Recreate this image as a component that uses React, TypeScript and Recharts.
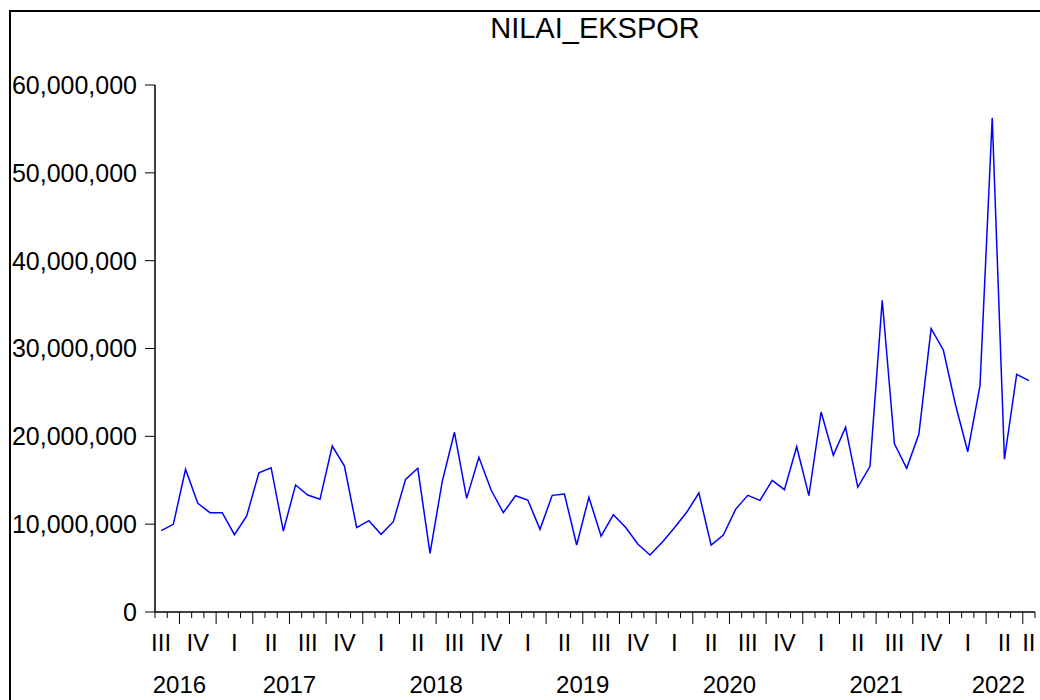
import React from 'react';
import { LineChart, Line, XAxis, YAxis } from 'recharts';

// monthly periods, Jul 2016 .. Jun 2022
const periods = [
  '2016M07', '2016M08', '2016M09', '2016M10', '2016M11', '2016M12',
  '2017M01', '2017M02', '2017M03', '2017M04', '2017M05', '2017M06',
  '2017M07', '2017M08', '2017M09', '2017M10', '2017M11', '2017M12',
  '2018M01', '2018M02', '2018M03', '2018M04', '2018M05', '2018M06',
  '2018M07', '2018M08', '2018M09', '2018M10', '2018M11', '2018M12',
  '2019M01', '2019M02', '2019M03', '2019M04', '2019M05', '2019M06',
  '2019M07', '2019M08', '2019M09', '2019M10', '2019M11', '2019M12',
  '2020M01', '2020M02', '2020M03', '2020M04', '2020M05', '2020M06',
  '2020M07', '2020M08', '2020M09', '2020M10', '2020M11', '2020M12',
  '2021M01', '2021M02', '2021M03', '2021M04', '2021M05', '2021M06',
  '2021M07', '2021M08', '2021M09', '2021M10', '2021M11', '2021M12',
  '2022M01', '2022M02', '2022M03', '2022M04', '2022M05', '2022M06',
];

const nilaiEkspor = [
  9260000, 9980000, 16250000, 12370000, 11310000, 11310000,
  8800000, 10930000, 15860000, 16430000, 9220000, 14460000,
  13320000, 12830000, 18900000, 16620000, 9600000, 10400000,
  8840000, 10280000, 15100000, 16360000, 6680000, 14840000,
  20460000, 12940000, 17610000, 13890000, 11310000, 13240000,
  12750000, 9410000, 13280000, 13430000, 7630000, 13060000,
  8650000, 11080000, 9640000, 7740000, 6490000, 7930000,
  9600000, 11350000, 13550000, 7610000, 8770000, 11690000,
  13280000, 12710000, 14990000, 13930000, 18820000, 13250000,
  22770000, 17840000, 21030000, 14200000, 16590000, 35490000,
  19160000, 16360000, 20270000, 32260000, 29830000, 23570000,
  18250000, 25770000, 56280000, 17390000, 27060000, 26340000,
];

const yTicks = [0, 10000000, 20000000, 30000000, 40000000, 50000000, 60000000];

// quarter labels sit on the first month of each quarter (1-based month number)
const quarterMonths = [1, 4, 7, 10, 13, 16, 19, 22, 25, 28, 31, 34, 37, 40, 43, 46, 49, 52, 55, 58, 61, 64, 67, 70, 72];
const quarterLabels = ['III', 'IV', 'I', 'II', 'III', 'IV', 'I', 'II', 'III', 'IV', 'I', 'II', 'III', 'IV', 'I', 'II', 'III', 'IV', 'I', 'II', 'III', 'IV', 'I', 'II', 'II'];

// year labels centred over their quarter labels
const yearMonths = [2.5, 11.5, 23.5, 35.5, 47.5, 59.5, 69.5];
const yearLabels = ['2016', '2017', '2018', '2019', '2020', '2021', '2022'];

const data = periods.map((p, i) => ({ period: p, x: i + 0.5, value: nilaiEkspor[i] }));
const monthEdges = Array.from({ length: periods.length + 1 }, (_, i) => i);
const quarterTicks = quarterMonths.map((m) => m - 0.5);
const yearTicks = yearMonths.map((m) => m - 0.5);

const FONT = '"Liberation Sans", Arial, sans-serif';
const domainX: [number, number] = [0, periods.length];

const MonthTick = (props: any) => {
  const { x, y, payload } = props;
  const len = payload.value % 3 === 2 ? 12 : 6;
  return <line x1={x} y1={y} x2={x} y2={y + len} stroke="#000" strokeWidth={1} />;
};

const App: React.FC = () => {
  return (
    <div
      style={{
        position: 'absolute',
        left: 0,
        top: 0,
        width: 1040,
        height: 700,
        overflow: 'hidden',
        background: '#fff',
        fontFamily: FONT,
      }}
    >
      <div
        style={{
          position: 'absolute',
          left: 9,
          top: 10,
          width: 1100,
          height: 800,
          borderLeft: '2px solid #000',
          borderTop: '2px solid #000',
        }}
      />
      <div
        style={{
          position: 'absolute',
          left: 155,
          top: 14,
          width: 880,
          textAlign: 'center',
          fontSize: 29,
          lineHeight: '29px',
          color: '#000',
        }}
      >
        NILAI_EKSPOR
      </div>
      <LineChart
        width={1040}
        height={700}
        data={data}
        margin={{ top: 85, right: 5, bottom: 0, left: 0 }}
        style={{ position: 'absolute', left: 0, top: 0 }}
      >
        <XAxis
          dataKey="x"
          type="number"
          domain={domainX}
          ticks={monthEdges}
          interval={0}
          tickSize={0}
          tickMargin={0}
          tick={<MonthTick />}
          height={20}
          axisLine={{ stroke: '#000', strokeWidth: 1.5 }}
          allowDataOverflow
        />
        <XAxis
          xAxisId="q"
          dataKey="x"
          type="number"
          domain={domainX}
          ticks={quarterTicks}
          interval={0}
          tickFormatter={(v: number) => quarterLabels[quarterTicks.indexOf(v)]}
          tickSize={0}
          tickMargin={2}
          tickLine={false}
          axisLine={false}
          tick={{ fill: '#000', fontSize: 24, fontFamily: FONT }}
          height={40}
          allowDataOverflow
        />
        <XAxis
          xAxisId="y"
          dataKey="x"
          type="number"
          domain={domainX}
          ticks={yearTicks}
          interval={0}
          tickFormatter={(v: number) => yearLabels[yearTicks.indexOf(v)]}
          tickSize={0}
          tickMargin={4}
          tickLine={false}
          axisLine={false}
          tick={{ fill: '#000', fontSize: 24, fontFamily: FONT }}
          height={28}
          allowDataOverflow
        />
        <XAxis
          xAxisId="top"
          orientation="top"
          dataKey="x"
          type="number"
          domain={domainX}
          tick={false}
          tickLine={false}
          height={0}
          axisLine={{ stroke: '#000', strokeWidth: 1.5 }}
          allowDataOverflow
        />
        <YAxis
          type="number"
          domain={[0, 60000000]}
          ticks={yTicks}
          interval={0}
          width={155}
          tickSize={10}
          tickMargin={8}
          tickFormatter={(v: number) => v.toLocaleString('en-US')}
          tick={{ fill: '#000', fontSize: 25, fontFamily: FONT }}
          tickLine={{ stroke: '#000', strokeWidth: 1 }}
          axisLine={{ stroke: '#000', strokeWidth: 1.5 }}
          allowDataOverflow
        />
        <YAxis
          yAxisId="r"
          orientation="right"
          type="number"
          domain={[0, 60000000]}
          tick={false}
          tickLine={false}
          width={0}
          axisLine={{ stroke: '#000', strokeWidth: 1.5 }}
        />
        <Line
          type="linear"
          dataKey="value"
          stroke="#0000FF"
          strokeWidth={1.5}
          dot={false}
          isAnimationActive={false}
        />
      </LineChart>
    </div>
  );
};

export default App;
